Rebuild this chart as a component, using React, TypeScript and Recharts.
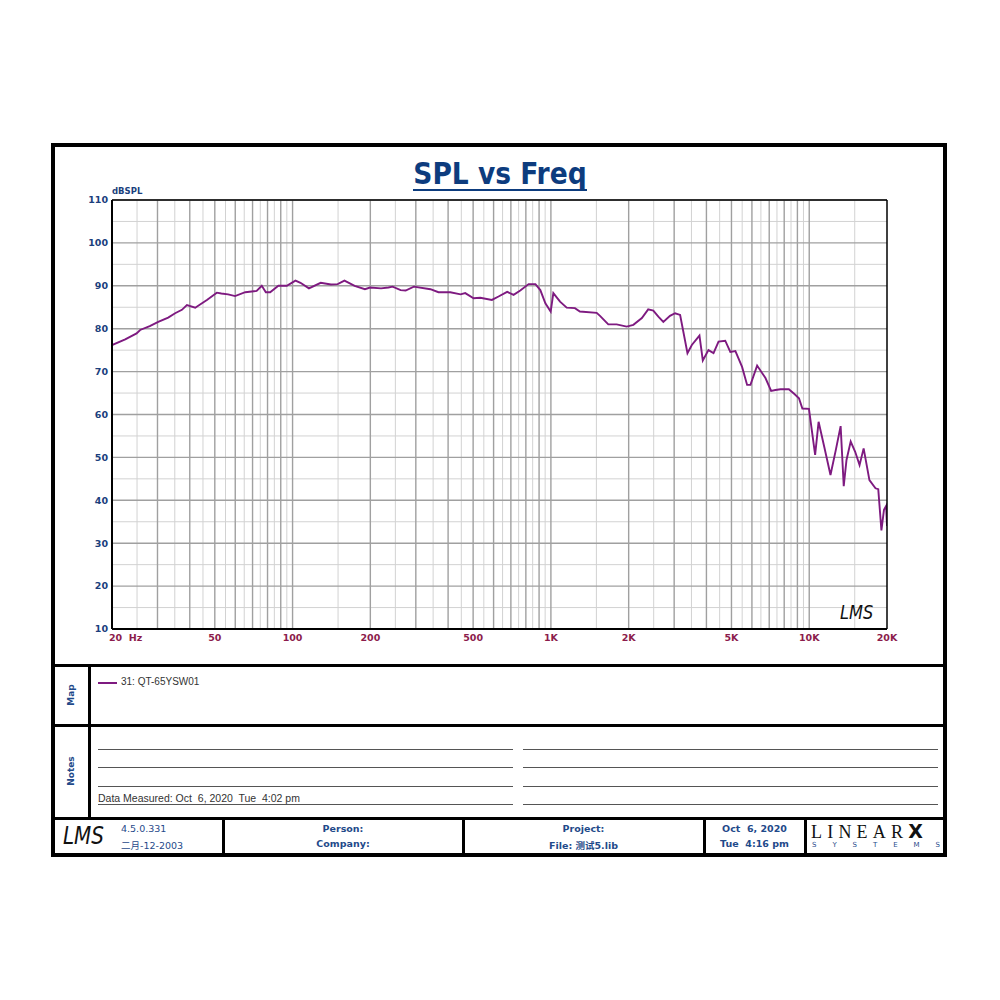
import React from "react"
import { LineChart, Line, XAxis, YAxis, ReferenceLine } from "recharts"

const freqHz = [
  20, 22.5, 24.9, 25.7, 28, 30.2, 33, 35.1, 37.3, 39, 42, 44, 46.6, 50.9, 53, 56.3, 59.9,
  65.6, 72.6, 76, 78.8, 81.9, 88.1, 95, 102.6, 107.3, 115.7, 128.5, 140.8, 149.5, 158.8,
  173.9, 190.6, 199.5, 220, 235, 244, 262, 274, 294.7, 341.7, 367, 408, 447, 466, 502,
  533, 591, 627, 677, 717, 761, 820, 871, 910, 952, 998, 1022, 1085, 1151, 1239, 1295,
  1504, 1549, 1668, 1797, 1965, 2085, 2250, 2380, 2491, 2606, 2724, 2891, 3025, 3164,
  3378, 3512, 3759, 3873, 4073, 4261, 4456, 4730, 4949, 5178, 5496, 5748, 5922, 6285,
  6770, 7120, 7399, 7740, 8337, 8719, 9125, 9407, 9975, 10540, 10870, 11430, 12085,
  12670, 13230, 13600, 13940, 14470, 15060, 15660, 16240, 17100, 18050, 18500, 19030,
  19470, 19850, 20000,
]
const splDb = [
  76.2, 77.5, 78.9, 79.7, 80.6, 81.6, 82.6, 83.6, 84.4, 85.5, 84.9, 85.7, 86.7, 88.4, 88.2, 88.0, 87.6,
  88.5, 88.8, 90.0, 88.5, 88.5, 90.0, 90.0, 91.2, 90.7, 89.4, 90.7, 90.3, 90.4, 91.2,
  90.0, 89.2, 89.6, 89.4, 89.6, 89.8, 89.0, 88.9, 89.8, 89.2, 88.5, 88.5, 88.0, 88.3, 87.1,
  87.2, 86.7, 87.5, 88.6, 87.9, 88.9, 90.4, 90.4, 89.0, 85.9, 84.0, 88.3, 86.3, 84.9, 84.8, 84.0,
  83.7, 83.0, 81.0, 81.0, 80.5, 80.9, 82.5, 84.5, 84.2, 82.8, 81.6, 83.0, 83.6, 83.2,
  74.3, 76.2, 78.4, 72.6, 75.0, 74.3, 77.0, 77.2, 74.6, 74.8, 71.1, 66.9, 66.9, 71.4,
  68.5, 65.5, 65.7, 65.9, 65.9, 64.9, 63.8, 61.4, 61.3, 50.6, 58.3, 52.5, 45.9,
  51.7, 57.3, 43.3, 49.4, 53.7, 51.3, 48.2, 52.1, 44.7, 42.8, 42.6, 33.0,
  37.8, 38.7, 34.0,
]

const yTicks = [10, 20, 30, 40, 50, 60, 70, 80, 90, 100, 110]
const yMinor = [15, 25, 35, 45, 55, 65, 75, 85, 95, 105]
const xTicks = [20, 50, 100, 200, 500, 1000, 2000, 5000, 10000, 20000]
const xTickLabels = ["20  Hz", "50", "100", "200", "500", "1K", "2K", "5K", "10K", "20K"]
const seriesName = "31: QT-65YSW01"

// log grid: whole multiples dark, half steps light
const decades = [10, 100, 1000, 10000]
const xMajor: number[] = []
const xMinor: number[] = []
decades.forEach((d) => {
  for (let m = 1; m <= 9; m++) {
    const a = m * d
    const b = (m + 0.5) * d
    if (a > 20 && a < 20000) xMajor.push(a)
    if (b > 20 && b < 20000) xMinor.push(b)
  }
})

const data = freqHz.map((f, i) => ({ freq: f, spl: splDb[i] }))

const BLUE = "#1b3f7d"
const MAROON = "#8c1c4c"
const PURPLE = "#7e1a80"

const YTick = (props: any) => {
  const { x, y, payload } = props
  return (
    <text x={x} y={y} dy="0.35em" textAnchor="end" fill={BLUE} fontSize={9.5} fontWeight="bold" fontFamily="DejaVu Sans">
      {payload.value}
    </text>
  )
}

const XTick = (props: any) => {
  const { x, y, payload } = props
  const i = xTicks.indexOf(payload.value)
  const first = i === 0
  return (
    <text x={first ? x - 3 : x} y={y + 9} dy="0.35em" textAnchor={first ? "start" : "middle"} fill={MAROON} fontSize={9.5} fontWeight="bold" fontFamily="DejaVu Sans" style={{ whiteSpace: "pre" }}>
      {xTickLabels[i]}
    </text>
  )
}

const abs = (s: React.CSSProperties): React.CSSProperties => ({ position: "absolute", ...s })
const txt: React.CSSProperties = { fontFamily: "'DejaVu Sans', sans-serif", fontSize: 9.5, color: "#1f4a8a", whiteSpace: "pre" }
const hand: React.CSSProperties = { fontFamily: "'DejaVu Sans', sans-serif", fontWeight: 200, fontStyle: "italic", color: "#111", transformOrigin: "0 0", lineHeight: 1 }

export default function App() {
  return (
    <div style={abs({ left: 0, top: 0, width: 1000, height: 1000, background: "#fff" })}>
      {/* outer frame */}
      <div style={abs({ left: 51, top: 143, width: 896, height: 714, border: "4px solid #000", boxSizing: "border-box" })} />
      <div style={abs({ left: 51, top: 664, width: 896, height: 3, background: "#000" })} />
      <div style={abs({ left: 51, top: 724, width: 896, height: 3, background: "#000" })} />
      <div style={abs({ left: 51, top: 817, width: 896, height: 3, background: "#000" })} />
      <div style={abs({ left: 88, top: 666, width: 2.5, height: 152, background: "#000" })} />
      {[223, 463, 704, 805].map((x) => (
        <div key={x} style={abs({ left: x - 1, top: 819, width: 2.5, height: 36, background: "#000" })} />
      ))}

      {/* title */}
      <div style={abs({ left: 0, top: 157, width: 1000, textAlign: "center", fontFamily: "'DejaVu Sans Condensed', 'DejaVu Sans', sans-serif", fontStretch: "condensed", fontWeight: "bold", fontSize: 29.5, color: "#0d3c7e", lineHeight: "34px" })}>
        <span style={{ borderBottom: "2px solid #0d3c7e", paddingBottom: 0, display: "inline-block", lineHeight: "29px" }}>SPL vs Freq</span>
      </div>
      <div style={abs({ left: 112, top: 186, fontFamily: "'DejaVu Sans', sans-serif", fontSize: 8.5, fontWeight: "bold", color: BLUE })}>dBSPL</div>

      <div style={abs({ left: 52, top: 146 })}>
        <LineChart width={895} height={515} data={data} margin={{ top: 54, right: 60, bottom: 2, left: 0 }}>
          {yMinor.map((v) => (
            <ReferenceLine key={"ym" + v} y={v} stroke="#d2d2d2" strokeWidth={1} />
          ))}
          {xMinor.map((v) => (
            <ReferenceLine key={"xm" + v} x={v} stroke="#d2d2d2" strokeWidth={1} />
          ))}
          {yTicks.map((v) => (
            <ReferenceLine key={"yM" + v} y={v} stroke="#a0a0a0" strokeWidth={1.4} />
          ))}
          {xMajor.map((v) => (
            <ReferenceLine key={"xM" + v} x={v} stroke="#a0a0a0" strokeWidth={1.4} />
          ))}
          <XAxis
            dataKey="freq"
            type="number"
            scale="log"
            domain={[20, 20000]}
            ticks={xTicks}
            allowDataOverflow
            height={30}
            tickSize={0}
            tickMargin={0}
            axisLine={false}
            tick={<XTick />}
            interval={0}
          />
          <YAxis
            type="number"
            domain={[10, 110]}
            ticks={yTicks}
            width={60}
            tickSize={0}
            tickMargin={4}
            axisLine={false}
            tick={<YTick />}
            interval={0}
          />
          <Line type="linear" dataKey="spl" stroke={PURPLE} strokeWidth={1.9} dot={false} isAnimationActive={false} />
          <ReferenceLine y={110} stroke="#000" strokeWidth={1.5} />
          <ReferenceLine x={20000} stroke="#000" strokeWidth={1.5} />
          <ReferenceLine y={10} stroke="#000" strokeWidth={2} />
          <ReferenceLine x={20} stroke="#000" strokeWidth={2} />
        </LineChart>
      </div>

      {/* handwritten logo in plot */}
      <div style={abs({ ...hand, left: 840, top: 603, fontSize: 17, transform: "scale(0.95, 1.15)" })}>LMS</div>

      {/* Map panel */}
      <div style={abs({ left: 56, top: 695, width: 30, transform: "translate(0,-50%) rotate(-90deg)", textAlign: "center", fontFamily: "'DejaVu Sans', sans-serif", fontSize: 9, fontWeight: "bold", color: "#1f4a8a" })}>Map</div>
      <div style={abs({ left: 98, top: 682, width: 19, height: 1.6, background: PURPLE })} />
      <div style={abs({ left: 121, top: 676, fontFamily: "'Liberation Sans', Arial, sans-serif", fontSize: 10, color: "#333" })}>{seriesName}</div>

      {/* Notes panel */}
      <div style={abs({ left: 46, top: 771, width: 50, transform: "translate(0,-50%) rotate(-90deg)", textAlign: "center", fontFamily: "'DejaVu Sans', sans-serif", fontSize: 9, fontWeight: "bold", color: "#1f4a8a" })}>Notes</div>
      {[749, 767, 786, 804].map((y) => (
        <React.Fragment key={y}>
          <div style={abs({ left: 98, top: y, width: 415, height: 1, background: "#555" })} />
          <div style={abs({ left: 523, top: y, width: 415, height: 1, background: "#555" })} />
        </React.Fragment>
      ))}
      <div style={abs({ left: 98, top: 792, fontFamily: "'Liberation Sans', Arial, sans-serif", fontSize: 10.5, color: "#333", whiteSpace: "pre" })}>
        {"Data Measured: Oct  6, 2020  Tue  4:02 pm"}
      </div>

      {/* footer */}
      <div style={abs({ ...hand, left: 63, top: 824, fontSize: 21, transform: "scale(0.95, 1.15)" })}>LMS</div>
      <div style={abs({ ...txt, left: 121, top: 823 })}>4.5.0.331</div>
      <div style={abs({ ...txt, left: 121, top: 838, fontFamily: "'DejaVu Sans', 'Noto Sans CJK SC', sans-serif" })}>二月-12-2003</div>
      <div style={abs({ ...txt, left: 223, width: 240, top: 823, textAlign: "center", fontWeight: "bold" })}>Person:</div>
      <div style={abs({ ...txt, left: 223, width: 240, top: 838, textAlign: "center", fontWeight: "bold" })}>Company:</div>
      <div style={abs({ ...txt, left: 463, width: 241, top: 823, textAlign: "center", fontWeight: "bold" })}>Project:</div>
      <div style={abs({ ...txt, left: 463, width: 241, top: 838, textAlign: "center", fontWeight: "bold", fontFamily: "'DejaVu Sans', 'Noto Sans CJK SC', sans-serif" })}>File: 测试5.lib</div>
      <div style={abs({ ...txt, left: 704, width: 101, top: 823, textAlign: "center", fontWeight: "bold" })}>{"Oct  6, 2020"}</div>
      <div style={abs({ ...txt, left: 704, width: 101, top: 838, textAlign: "center", fontWeight: "bold" })}>{"Tue  4:16 pm"}</div>
      <div style={abs({ left: 811, top: 821, fontFamily: "'Liberation Serif', serif", fontSize: 18, color: "#111", letterSpacing: 5.2, lineHeight: "20px" })}>
        LINEAR<span style={{ fontFamily: "'DejaVu Sans', sans-serif", fontWeight: 900, fontSize: 19, letterSpacing: 0 }}>X</span>
      </div>
      <div style={abs({ left: 812, top: 841, width: 128, display: "flex", justifyContent: "space-between", fontFamily: "'DejaVu Sans', sans-serif", fontSize: 7, color: "#1f4a8a" })}>
        {"SYSTEMS".split("").map((c, i) => (
          <span key={i}>{c}</span>
        ))}
      </div>
    </div>
  )
}
